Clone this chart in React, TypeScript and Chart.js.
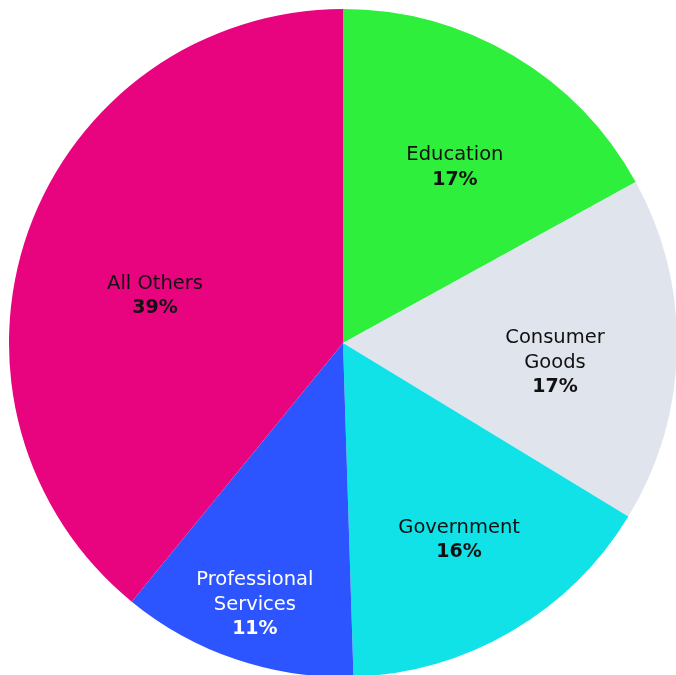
import React, { useEffect, useRef } from "react";
import { Chart, registerables } from "chart.js";

Chart.register(...registerables);

const categories: string[][] = [
  ["Education"],
  ["Consumer", "Goods"],
  ["Government"],
  ["Professional", "Services"],
  ["All Others"],
];
const shares: number[] = [17.0, 16.7, 15.8, 11.4, 39.1];
const sliceColors: string[] = ["#2EF03C", "#E0E4EC", "#10E2E8", "#2C55FF", "#E8037F"];
const labelColors: string[] = ["#111111", "#111111", "#111111", "#FFFFFF", "#111111"];
// label anchor: fraction of outer radius, and angular nudge (degrees)
const labelRadius: number[] = [0.627, 0.637, 0.68, 0.822, 0.581];
const labelAngleShift: number[] = [1.7, 3.6, -0.5, 0, -5.2];

const labelPlugin = {
  id: "sliceLabels",
  afterDatasetsDraw(chart: any) {
    const ctx = chart.ctx as CanvasRenderingContext2D;
    const meta = chart.getDatasetMeta(0);
    meta.data.forEach((arc: any, i: number) => {
      const { x, y, startAngle, endAngle, outerRadius } = arc.getProps(
        ["x", "y", "startAngle", "endAngle", "outerRadius"],
        true
      );
      const mid = (startAngle + endAngle) / 2 + (labelAngleShift[i] * Math.PI) / 180;
      const r = outerRadius * labelRadius[i];
      const cx = x + Math.cos(mid) * r;
      const cy = y + Math.sin(mid) * r + 1.5;
      const lines = categories[i];
      const pct = Math.round(shares[i]) + "%";
      const lh = 24.5;
      const total = lines.length + 1;
      const top = cy - ((total - 1) * lh) / 2;
      ctx.save();
      ctx.textAlign = "center";
      ctx.textBaseline = "middle";
      ctx.fillStyle = labelColors[i];
      ctx.font = '19.5px "DejaVu Sans"';
      lines.forEach((t, k) => ctx.fillText(t, cx, top + k * lh));
      ctx.font = 'bold 19px "DejaVu Sans"';
      ctx.fillText(pct, cx, top + lines.length * lh);
      ctx.restore();
    });
  },
};

export default function App() {
  const ref = useRef<HTMLCanvasElement | null>(null);
  useEffect(() => {
    if (!ref.current) return;
    const chart = new Chart(ref.current, {
      type: "pie",
      data: {
        labels: categories.map((c) => c.join(" ")),
        datasets: [
          {
            data: shares,
            backgroundColor: sliceColors,
            borderWidth: 0,
          },
        ],
      },
      options: {
        responsive: false,
        animation: false,
        layout: { padding: 1 },
        events: [],
        plugins: {
          legend: { display: false },
          tooltip: { enabled: false },
        },
      },
      plugins: [labelPlugin],
    });
    return () => chart.destroy();
  }, []);
  return (
    <div
      style={{
        position: "fixed",
        left: 0,
        top: 0,
        width: 676,
        height: 675,
        overflow: "hidden",
        background: "#fff",
      }}
    >
      <canvas
        ref={ref}
        width={670}
        height={670}
        style={{ position: "absolute", left: 8, top: 8, width: 670, height: 670 }}
      />
    </div>
  );
}
